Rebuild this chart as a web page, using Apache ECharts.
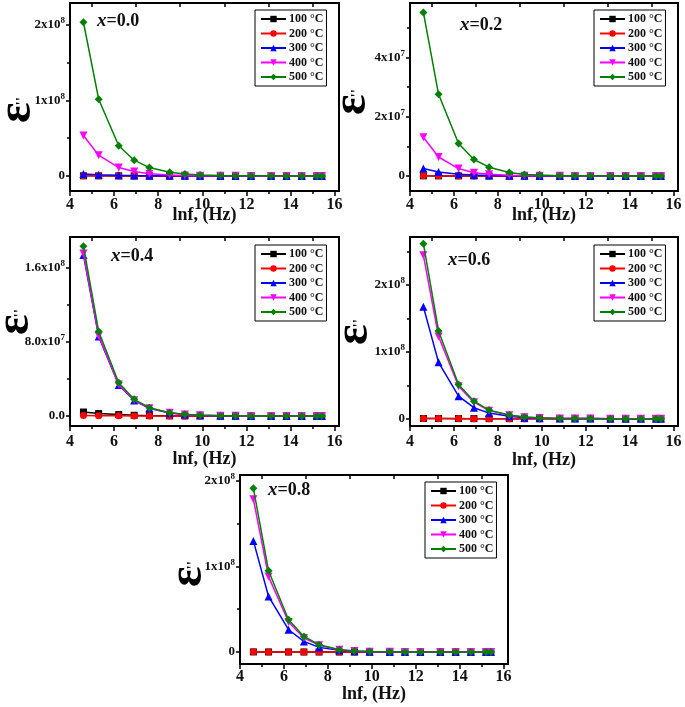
<!DOCTYPE html>
<html><head><meta charset="utf-8">
<script src="https://cdn.jsdelivr.net/npm/echarts@6/dist/echarts.min.js"></script>
<style>html,body{margin:0;padding:0;background:#fff}#c{width:685px;height:707px}</style>
</head><body><div id="c"></div>
<script>
// ---------- DATA ----------
const lnf = [4.61, 5.30, 6.21, 6.91, 7.60, 8.52, 9.21, 9.90, 10.82, 11.51, 12.21, 13.12, 13.82, 14.51, 15.20, 15.42];
const temps = ['100 °C', '200 °C', '300 °C', '400 °C', '500 °C'];
const compositions = ['0.0', '0.2', '0.4', '0.6', '0.8'];
const xTicks = [4, 6, 8, 10, 12, 14, 16];
const xMinorTicks = [5, 7, 9, 11, 13, 15];

const x00_T100 = [1.0e5, 5e4, 2e4, 1e4, 5e3, 2e3, 1e3, 5e2, 2e2, 1e2, 50, 20, 10, 5, 3, 2];
const x00_T200 = [2.0e5, 1e5, 4e4, 2e4, 1e4, 4e3, 2e3, 1e3, 4e2, 2e2, 1e2, 40, 20, 10, 5, 4];
const x00_T300 = [2.6e6, 1.5e6, 8e5, 4.5e5, 2.5e5, 1e5, 5e4, 2.5e4, 1e4, 5e3, 2.5e3, 1e3, 5e2, 2.5e2, 1.2e2, 1e2];
const x00_T400 = [5.34e7, 2.74e7, 1.10e7, 5.7e6, 3.0e6, 1.2e6, 6e5, 3e5, 1.2e5, 6e4, 3e4, 1.2e4, 6e3, 3e3, 1.5e3, 1.2e3];
const x00_T500 = [2.035e8, 1.016e8, 4.0e7, 2.08e7, 1.10e7, 4.9e6, 2.6e6, 1.3e6, 5e5, 2.5e5, 1.2e5, 5e4, 2.5e4, 1.2e4, 6e3, 5e3];

const x02_T100 = [3e4, 1.5e4, 6e3, 3e3, 1.5e3, 6e2, 3e2, 1.5e2, 60, 30, 15, 6, 3, 2, 1, 1];
const x02_T200 = [6e4, 3e4, 1.2e4, 6e3, 3e3, 1.2e3, 6e2, 3e2, 1.2e2, 60, 30, 12, 6, 3, 2, 1];
const x02_T300 = [2.5e6, 1.36e6, 6e5, 3e5, 1.5e5, 6e4, 3e4, 1.5e4, 6e3, 3e3, 1.5e3, 6e2, 3e2, 1.5e2, 80, 60];
const x02_T400 = [1.31e7, 6.4e6, 2.5e6, 1.1e6, 6e5, 2e5, 1e5, 5e4, 2e4, 1e4, 5e3, 2e3, 1e3, 5e2, 2.5e2, 2e2];
const x02_T500 = [5.53e7, 2.76e7, 1.10e7, 5.56e6, 2.95e6, 1.15e6, 5e5, 3e5, 1e5, 5e4, 2.5e4, 1e4, 5e3, 2.5e3, 1.2e3, 1e3];

const x04_T100 = [4.3e6, 2.6e6, 1.5e6, 8e5, 4e5, 1.6e5, 8e4, 4e4, 1.6e4, 8e3, 4e3, 1.6e3, 8e2, 4e2, 2e2, 1.6e2];
const x04_T200 = [5e5, 3e5, 1.5e5, 8e4, 4e4, 1.6e4, 8e3, 4e3, 1.6e3, 8e2, 4e2, 1.6e2, 80, 40, 20, 16];
const x04_T300 = [1.74e8, 8.6e7, 3.35e7, 1.68e7, 8.3e6, 3.3e6, 1.6e6, 8e5, 3e5, 1.5e5, 7e4, 3e4, 1.5e4, 7e3, 3.5e3, 3e3];
const x04_T400 = [1.757e8, 8.68e7, 3.40e7, 1.70e7, 8.5e6, 3.4e6, 1.6e6, 8e5, 3e5, 1.5e5, 7e4, 3e4, 1.5e4, 7e3, 3.5e3, 3e3];
const x04_T500 = [1.835e8, 9.14e7, 3.59e7, 1.80e7, 9.0e6, 3.6e6, 1.8e6, 8e5, 3e5, 1.5e5, 7e4, 3e4, 1.5e4, 7e3, 3.5e3, 3e3];

const x06_T100 = [2e5, 1e5, 4e4, 2e4, 1e4, 4e3, 2e3, 1e3, 4e2, 2e2, 1e2, 40, 20, 10, 5, 4];
const x06_T200 = [3e5, 1.5e5, 6e4, 3e4, 1.5e4, 6e3, 3e3, 1.5e3, 6e2, 3e2, 1.5e2, 60, 30, 15, 8, 6];
const x06_T300 = [1.676e8, 8.43e7, 3.37e7, 1.64e7, 8.3e6, 3.5e6, 1.5e6, 6e5, 2e5, 1e5, 5e4, 2e4, 1e4, 5e3, 2.5e3, 2e3];
const x06_T400 = [2.445e8, 1.23e8, 4.85e7, 2.47e7, 1.20e7, 5.0e6, 2.2e6, 1.0e6, 4e5, 2e5, 1e5, 4e4, 2e4, 1e4, 5e3, 4e3];
const x06_T500 = [2.62e8, 1.314e8, 5.10e7, 2.62e7, 1.28e7, 5.4e6, 2.5e6, 1.2e6, 4e5, 2e5, 1e5, 4e4, 2e4, 1e4, 5e3, 4e3];

const x08_T100 = [1e5, 5e4, 2e4, 1e4, 5e3, 2e3, 1e3, 5e2, 2e2, 1e2, 50, 20, 10, 5, 3, 2];
const x08_T200 = [2e5, 1e5, 4e4, 2e4, 1e4, 4e3, 2e3, 1e3, 4e2, 2e2, 1e2, 40, 20, 10, 5, 4];
const x08_T300 = [1.297e8, 6.48e7, 2.60e7, 1.24e7, 5.4e6, 2.0e6, 8e5, 3e5, 1.2e5, 6e4, 3e4, 1.2e4, 6e3, 3e3, 1.5e3, 1.2e3];
const x08_T400 = [1.783e8, 8.80e7, 3.50e7, 1.63e7, 8.0e6, 2.6e6, 1.1e6, 4e5, 1.6e5, 8e4, 4e4, 1.6e4, 8e3, 4e3, 2e3, 1.6e3];
const x08_T500 = [1.91e8, 9.48e7, 3.76e7, 1.82e7, 8.5e6, 2.7e6, 1.2e6, 5e5, 2e5, 1e5, 5e4, 2e4, 1e4, 5e3, 2.5e3, 2e3];

const yTicks_00 = [0, 1e8, 2e8];
const yTickLabels_00 = ['0', '1x10{s|8}', '2x10{s|8}'];
const yMinor_00 = [5e7, 1.5e8];
const yTicks_02 = [0, 2e7, 4e7];
const yTickLabels_02 = ['0', '2x10{s|7}', '4x10{s|7}'];
const yMinor_02 = [1e7, 3e7, 5e7];
const yTicks_04 = [0, 8e7, 1.6e8];
const yTickLabels_04 = ['0.0', '8.0x10{s|7}', '1.6x10{s|8}'];
const yMinor_04 = [4e7, 1.2e8];
const yTicks_06 = [0, 1e8, 2e8];
const yTickLabels_06 = ['0', '1x10{s|8}', '2x10{s|8}'];
const yMinor_06 = [5e7, 1.5e8, 2.5e8];
const yTicks_08 = [0, 1e8, 2e8];
const yTickLabels_08 = ['0', '1x10{s|8}', '2x10{s|8}'];
const yMinor_08 = [5e7, 1.5e8];

// ---------- CONFIG ----------
const FONT = 'Liberation Serif';
const colors = ['#000000', '#ff0000', '#0000ff', '#ff00ff', '#008000'];
const symbols = ['rect', 'circle', 'triangle', 'triangle', 'diamond'];
const symbolRot = [0, 0, 0, 180, 0];
const symbolSizes = [7, 7, 8, 8, 8];

const panels = [
  { comp: compositions[0], series: [x00_T100, x00_T200, x00_T300, x00_T400, x00_T500], yMin: -2.0e7, yMax: 2.29e8, ticks: yTicks_00, labels: yTickLabels_00, minor: yMinor_00,
    grid: { left: 70, top: 3, width: 269, height: 188 }, legend: { left: 255, top: 10 }, tag: { x: 97, y: 22 }, yName: { x: 18, y: 110 }, labelMargin: 6, nameGap: 15 },
  { comp: compositions[1], series: [x02_T100, x02_T200, x02_T300, x02_T400, x02_T500], yMin: -5.1e6, yMax: 5.85e7, ticks: yTicks_02, labels: yTickLabels_02, minor: yMinor_02,
    grid: { left: 410, top: 3, width: 268, height: 188 }, legend: { left: 594, top: 10 }, tag: { x: 460, y: 26 }, yName: { x: 353, y: 102 }, labelMargin: 6, nameGap: 15 },
  { comp: compositions[2], series: [x04_T100, x04_T200, x04_T300, x04_T400, x04_T500], yMin: -1.08e7, yMax: 1.935e8, ticks: yTicks_04, labels: yTickLabels_04, minor: yMinor_04,
    grid: { left: 70, top: 237, width: 269, height: 189 }, legend: { left: 255, top: 245 }, tag: { x: 111, y: 257 }, yName: { x: 16, y: 322 }, labelMargin: 8, nameGap: 24 },
  { comp: compositions[3], series: [x06_T100, x06_T200, x06_T300, x06_T400, x06_T500], yMin: -1.1e7, yMax: 2.72e8, ticks: yTicks_06, labels: yTickLabels_06, minor: yMinor_06,
    grid: { left: 410, top: 237, width: 268, height: 189 }, legend: { left: 594, top: 245 }, tag: { x: 448, y: 261 }, yName: { x: 355, y: 332 }, labelMargin: 8, nameGap: 25 },
  { comp: compositions[4], series: [x08_T100, x08_T200, x08_T300, x08_T400, x08_T500], yMin: -1.4e7, yMax: 2.066e8, ticks: yTicks_08, labels: yTickLabels_08, minor: yMinor_08,
    grid: { left: 240, top: 475, width: 268, height: 189 }, legend: { left: 425, top: 482 }, tag: { x: 268, y: 491 }, yName: { x: 189, y: 574 }, labelMargin: 5, nameGap: 21 }
];

const grids = [], xAxes = [], yAxes = [], series = [], legends = [], graphics = [];
const tickLine = { color: '#000', width: 1.5 };
const noLine = { show: false, onZero: false };

panels.forEach((p, i) => {
  grids.push(Object.assign({ show: true, borderColor: '#000', borderWidth: 2, backgroundColor: 'transparent', containLabel: false }, p.grid));
  xAxes.push({
    type: 'value', gridIndex: i, position: 'bottom', min: 4, max: 16.2,
    axisLine: noLine, splitLine: { show: false },
    axisTick: { show: true, inside: false, length: 5, lineStyle: tickLine, customValues: xTicks },
    axisLabel: { show: true, customValues: xTicks, margin: p.labelMargin, fontFamily: FONT, fontWeight: 'bold', fontSize: 16, color: '#111' },
    name: 'lnf, (Hz)', nameLocation: 'middle', nameGap: p.nameGap, nameMoveOverlap: false,
    nameTextStyle: { fontFamily: FONT, fontWeight: 'bold', fontSize: 18, color: '#111', verticalAlign: 'top' }
  });
  xAxes.push({
    type: 'value', gridIndex: i, position: 'bottom', min: 4, max: 16.2,
    axisLine: noLine, splitLine: { show: false }, axisLabel: { show: false },
    axisTick: { show: true, inside: false, length: 3, lineStyle: tickLine, customValues: xMinorTicks }
  });
  xAxes.push({
    type: 'value', gridIndex: i, position: 'top', min: 4, max: 16.2,
    axisLine: noLine, splitLine: { show: false }, axisLabel: { show: false },
    axisTick: { show: true, inside: true, length: 4, lineStyle: tickLine, customValues: xMinorTicks }
  });
  const ticks = p.ticks, labels = p.labels;
  yAxes.push({
    type: 'value', gridIndex: i, position: 'left', min: p.yMin, max: p.yMax,
    axisLine: noLine, splitLine: { show: false },
    axisTick: { show: true, inside: false, length: 4, lineStyle: tickLine, customValues: ticks },
    axisLabel: {
      show: true, customValues: ticks, margin: 5, fontFamily: FONT, fontWeight: 'bold', fontSize: 13, color: '#111', lineHeight: 17,
      formatter: function (v) {
        let best = 0, d = Infinity;
        ticks.forEach((t, k) => { const dd = Math.abs(t - v); if (dd < d) { d = dd; best = k; } });
        return labels[best];
      },
      rich: { s: { fontFamily: FONT, fontWeight: 'bold', fontSize: 9, color: '#111', verticalAlign: 'top', lineHeight: 10 } }
    }
  });
  yAxes.push({
    type: 'value', gridIndex: i, position: 'left', min: p.yMin, max: p.yMax,
    axisLine: noLine, splitLine: { show: false }, axisLabel: { show: false },
    axisTick: { show: true, inside: false, length: 3, lineStyle: tickLine, customValues: p.minor }
  });
  p.series.forEach((vals, j) => {
    series.push({
      type: 'line', name: temps[j], xAxisIndex: 3 * i, yAxisIndex: 2 * i,
      data: lnf.map((x, k) => [x, vals[k]]),
      symbol: symbols[j], symbolRotate: symbolRot[j], symbolSize: symbolSizes[j],
      lineStyle: { color: colors[j], width: 1.5 }, itemStyle: { color: colors[j] },
      z: 2 + j, animation: false
    });
  });
  legends.push({
    data: temps, orient: 'vertical', left: p.legend.left, top: p.legend.top,
    borderColor: '#000', borderWidth: 1, padding: [3, 3, 3, 5], itemGap: 2.5,
    itemWidth: 25, itemHeight: 8, selectedMode: false,
    textStyle: { fontFamily: FONT, fontWeight: 'bold', fontSize: 12, color: '#111', lineHeight: 12, padding: [0, 0, 0, -2] }
  });
  graphics.push({
    type: 'text', left: p.tag.x, top: p.tag.y - 10,
    style: { text: '{i|x}=' + p.comp, font: 'bold 18px "' + FONT + '"', fill: '#111',
      rich: { i: { fontFamily: FONT, fontStyle: 'italic', fontWeight: 'bold', fontSize: 19, fill: '#111' } } }
  });
  graphics.push({
    type: 'text', x: p.yName.x, y: p.yName.y, rotation: Math.PI / 2,
    style: { text: "{e|ε}{p|''}", fill: '#000', align: 'center', verticalAlign: 'middle',
      rich: {
        e: { fontFamily: FONT, fontWeight: 'bold', fontSize: 48, fill: '#000', lineHeight: 40 },
        p: { fontFamily: FONT, fontWeight: 'bold', fontSize: 15, fill: '#000', verticalAlign: 'middle', lineHeight: 40, padding: [8, 0, 0, -3] }
      } }
  });
});

const chart = echarts.init(document.getElementById('c'), null, { renderer: 'canvas' });
chart.setOption({
  animation: false,
  backgroundColor: '#fff',
  grid: grids, xAxis: xAxes, yAxis: yAxes, series: series, legend: legends, graphic: graphics
});
</script></body></html>
